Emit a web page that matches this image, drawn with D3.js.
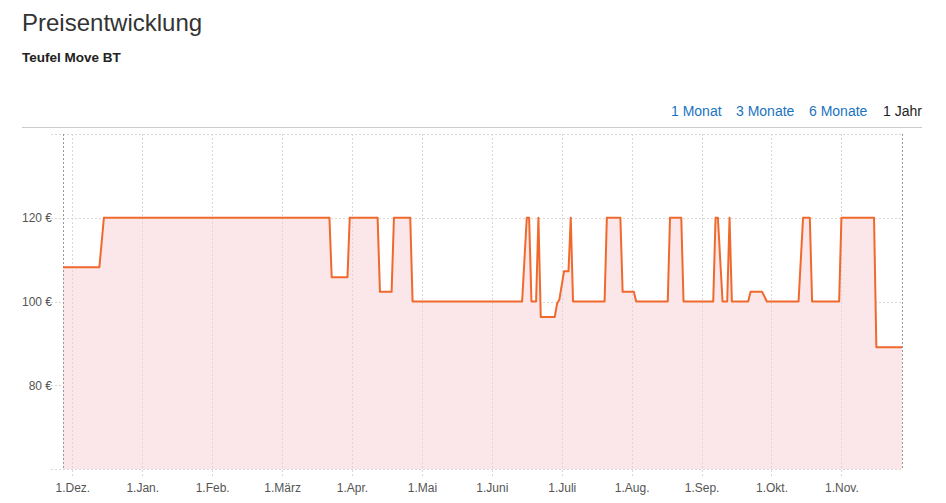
<!DOCTYPE html>
<html>
<head>
<meta charset="utf-8">
<script src="https://cdn.jsdelivr.net/npm/d3@7"></script>
<style>
  body { margin: 0; background: #fff; font-family: "Helvetica Neue", Helvetica, Arial, "Liberation Sans", sans-serif; }
</style>
</head>
<body>
<div id="chart"></div>
<script>
  // Price history (date, price in €)
  var dates = ["2016-11-27", "2016-12-13", "2016-12-15", "2017-03-22", "2017-03-23", "2017-03-30",
    "2017-03-31", "2017-04-12", "2017-04-13", "2017-04-18", "2017-04-19", "2017-04-26", "2017-04-27",
    "2017-06-14", "2017-06-16", "2017-06-17", "2017-06-18", "2017-06-20", "2017-06-21", "2017-06-22",
    "2017-06-28", "2017-06-29", "2017-06-30", "2017-07-02", "2017-07-04", "2017-07-05", "2017-07-06",
    "2017-07-20", "2017-07-21", "2017-07-27", "2017-07-28", "2017-08-02", "2017-08-03", "2017-08-17",
    "2017-08-18", "2017-08-23", "2017-08-24", "2017-09-06", "2017-09-07", "2017-09-08", "2017-09-10",
    "2017-09-12", "2017-09-13", "2017-09-14", "2017-09-21", "2017-09-22", "2017-09-27", "2017-09-29",
    "2017-10-13", "2017-10-15", "2017-10-18", "2017-10-19", "2017-10-31", "2017-11-01", "2017-11-15",
    "2017-11-16", "2017-11-27"]
  var prices = [108.2, 108.2, 120, 120, 105.8, 105.8,
    120, 120, 102.3, 102.3, 120, 120, 100,
    100, 120, 120, 100, 100, 120, 96.3,
    96.3, 99.5, 100.5, 107.2, 107.2, 120, 100,
    100, 120, 120, 102.3, 102.3, 100, 100,
    120, 120, 100, 100, 120, 120, 100,
    100, 120, 100, 100, 102.3, 102.3, 100,
    100, 120, 120, 100, 100, 120, 120,
    89.1, 89.1]

  var monthLabels = ["1.Dez.", "1.Jan.", "1.Feb.", "1.März", "1.Apr.", "1.Mai", "1.Juni", "1.Juli", "1.Aug.", "1.Sep.", "1.Okt.", "1.Nov."]
  var yTicks = [80, 100, 120]
  var rangeLinks = ["1 Monat", "3 Monate", "6 Monate", "1 Jahr"]

  var width = 946
  var height = 503
  var parse = d3.timeParse("%Y-%m-%d")
  var origin = parse("2016-12-01")

  // months count evenly on this chart, whatever their length
  function monthPos(d) {
    var m0 = d3.timeMonth.floor(d)
    var m1 = d3.timeMonth.offset(m0, 1)
    return d3.timeMonth.count(origin, m0) + (d - m0) / (m1 - m0)
  }

  var data = dates.map(function (d, i) {
    return { date: parse(d), price: prices[i] }
  })

  var plotLeft = 63, plotRight = 902, plotTop = 134, plotBottom = 469

  var x = d3.scaleLinear()
    .domain([monthPos(data[0].date), monthPos(data[data.length - 1].date)])
    .range([plotLeft, plotRight])
  var y = d3.scaleLinear()
    .domain([60, 140])
    .range([plotBottom, plotTop])

  var svg = d3.select("#chart")
    .append("svg")
    .attr("width", width)
    .attr("height", height)

  // Title
  svg.append("text")
    .attr("x", 22).attr("y", 31)
    .style("font-size", "24px")
    .style("fill", "#333")
    .text("Preisentwicklung")
  svg.append("text")
    .attr("x", 22).attr("y", 62)
    .style("font-size", "13.5px")
    .style("font-weight", "bold")
    .style("fill", "#222")
    .text("Teufel Move BT")

  // range links
  var linkX = [671, 736, 809, 883]
  svg.append("g")
    .selectAll("text")
    .data(rangeLinks)
    .enter()
    .append("text")
    .attr("x", function (d, i) { return linkX[i] })
    .attr("y", 116)
    .style("font-size", "14px")
    .style("fill", function (d, i) { return i == 3 ? "#222" : "#1a73c0" })
    .text(function (d) { return d })

  svg.append("line")
    .attr("x1", 22).attr("x2", 922)
    .attr("y1", 127.5).attr("y2", 127.5)
    .style("stroke", "#ccc")

  // horizontal grid
  svg.append("g")
    .selectAll("line")
    .data([60, 80, 100, 120, 140])
    .enter()
    .append("line")
    .attr("x1", 51).attr("x2", plotRight)
    .attr("y1", function (d) { return Math.round(y(d)) + 0.5 })
    .attr("y2", function (d) { return Math.round(y(d)) + 0.5 })
    .style("stroke", "#d8d8d8")
    .style("stroke-dasharray", "2,2")

  // area
  svg.append("path")
    .datum(data)
    .attr("fill", "#fbe7e9")
    .attr("d", d3.area()
      .x(function (d) { return x(monthPos(d.date)) })
      .y0(y(60))
      .y1(function (d) { return y(d.price) }))

  // vertical month grid
  var monthIdx = d3.range(monthLabels.length)
  svg.append("g")
    .selectAll("line")
    .data(monthIdx)
    .enter()
    .append("line")
    .attr("x1", function (d) { return Math.round(x(d)) + 0.5 })
    .attr("x2", function (d) { return Math.round(x(d)) + 0.5 })
    .attr("y1", plotTop).attr("y2", 478)
    .style("stroke", "#d8d8d8")
    .style("stroke-dasharray", "2,2")

  // plot borders
  svg.append("g")
    .selectAll("line")
    .data([plotLeft, plotRight])
    .enter()
    .append("line")
    .attr("x1", function (d) { return d + 0.5 })
    .attr("x2", function (d) { return d + 0.5 })
    .attr("y1", plotTop).attr("y2", plotBottom)
    .style("stroke", "#999")
    .style("stroke-dasharray", "2,2")

  // price line
  svg.append("path")
    .datum(data)
    .attr("fill", "none")
    .attr("stroke", "#f0692c")
    .attr("stroke-width", 2)
    .attr("stroke-linejoin", "round")
    .attr("d", d3.line()
      .x(function (d) { return x(monthPos(d.date)) })
      .y(function (d) { return y(d.price) }))

  // axes labels
  svg.append("g")
    .attr("transform", "translate(0," + plotBottom + ")")
    .call(d3.axisBottom(x)
      .tickValues(monthIdx)
      .tickSize(0)
      .tickPadding(14)
      .tickFormat(function (d) { return monthLabels[d] }))
  svg.append("g")
    .attr("transform", "translate(53,0)")
    .call(d3.axisLeft(y)
      .tickValues(yTicks)
      .tickSize(0)
      .tickPadding(1)
      .tickFormat(function (d) { return d + " €" }))

  svg.selectAll(".domain").remove()
  svg.selectAll(".tick text")
    .style("font-family", "\"Helvetica Neue\", Helvetica, Arial, \"Liberation Sans\", sans-serif")
    .style("font-size", "12px")
    .style("fill", "#555")
</script>
</body>
</html>
